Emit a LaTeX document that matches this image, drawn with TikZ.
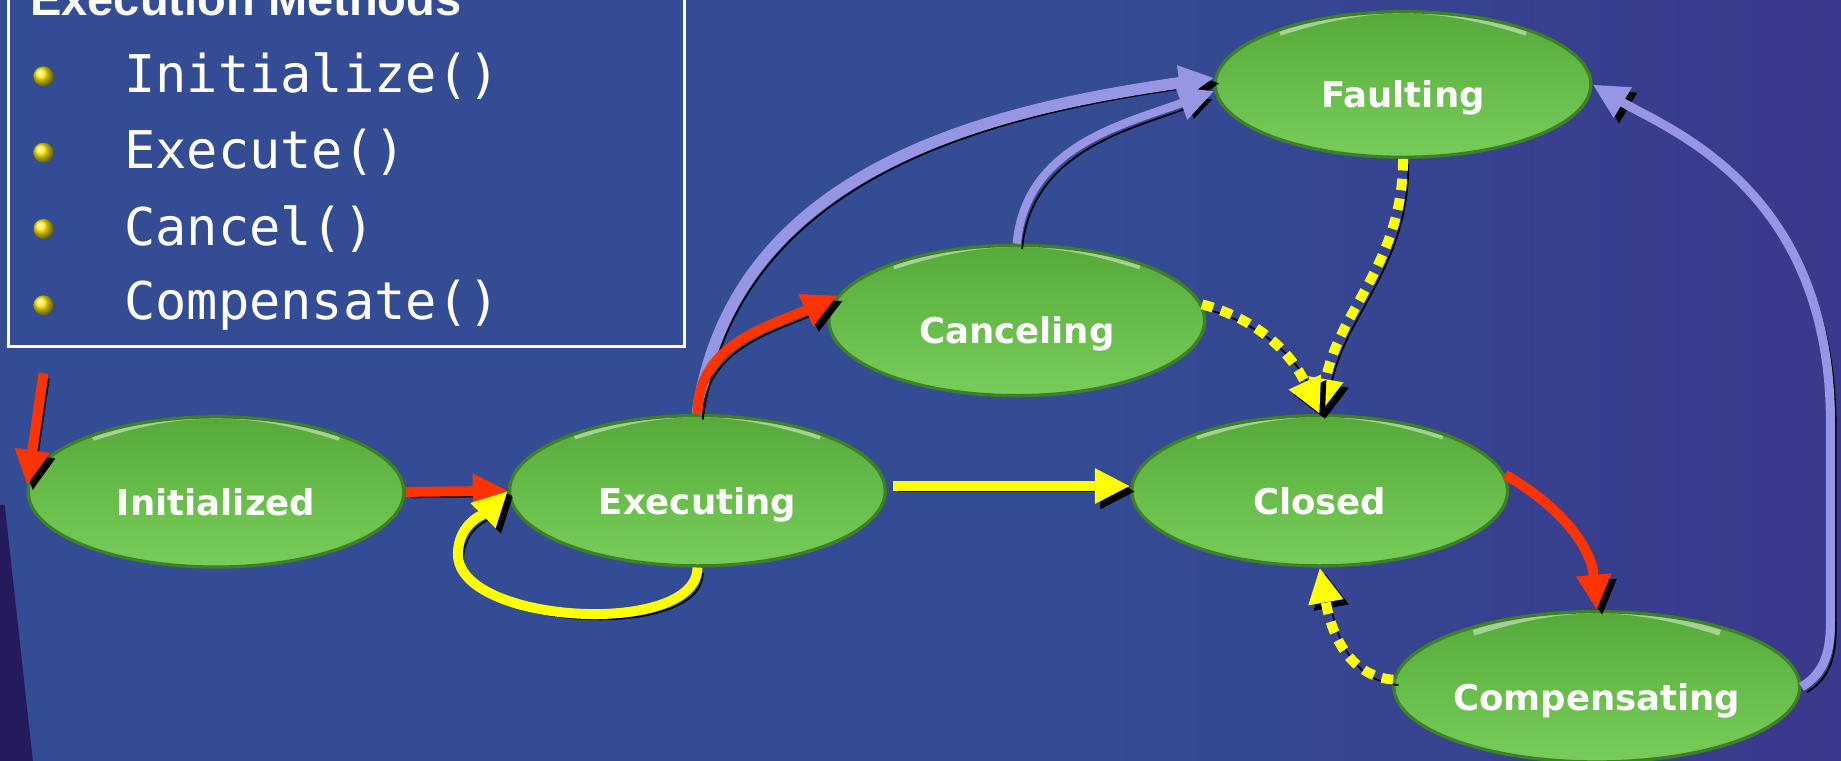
\documentclass[tikz,border=0pt]{standalone}
\usepackage{fontspec}
\setmainfont{DejaVu Sans}
\newfontfamily\monofont{DejaVu Sans Mono}
\newfontfamily\titlefont{Liberation Sans}
\usepackage{tikz}
\usetikzlibrary{calc,shapes.geometric,arrows.meta}

\definecolor{bgleft}{RGB}{36,28,92}
\definecolor{bgblue}{RGB}{52,76,148}
\definecolor{bgviolet}{RGB}{58,56,140}
\definecolor{bgright}{RGB}{62,40,118}
\definecolor{bgdark}{RGB}{34,14,78}
\definecolor{nodetop}{RGB}{86,170,58}
\definecolor{nodebot}{RGB}{120,205,90}
\definecolor{nodeedge}{RGB}{62,128,40}
\definecolor{arrred}{RGB}{255,51,0}
\definecolor{arryellow}{RGB}{255,255,0}
\definecolor{arrlav}{RGB}{150,150,228}
\pgfdeclarehorizontalshading{bgshade}{100bp}{color(0bp)=(bgleft); color(8bp)=(bgblue); color(55bp)=(bgblue); color(75bp)=(bgviolet); color(100bp)=(bgright)}

\tikzset{
	phase/.style={ellipse, minimum width=3.2cm, minimum height=1.28cm, inner sep=0pt,
		text height=0.45cm, text depth=0.05cm,
		top color=nodetop, bottom color=nodebot, draw=nodeedge, line width=0.8pt,
		text=white, font=\fontsize{8.6}{10}\selectfont\bfseries,
		path picture={\draw[white, opacity=0.45, line width=1.4pt]
			([xshift=-1.05cm,yshift=-0.18cm]path picture bounding box.north)
			to[bend left=18] ([xshift=1.05cm,yshift=-0.18cm]path picture bounding box.north);}},
	castshadow/.style={preaction={draw=black, transform canvas={shift={(1.3pt,-1.3pt)}}}},
	flow/.style={castshadow, line width=2.4pt, -{Triangle[length=0.3cm,width=0.28cm]}},
	redflow/.style={flow, arrred},
	yelflow/.style={flow, arryellow},
	dotflow/.style={yelflow, dash pattern=on 2.8pt off 2pt},
	lavflow/.style={flow, arrlav, line width=2pt}
}

\begin{document}
\begin{tikzpicture}
			%%%%% START %%%%%
			
			\clip (0,0) rectangle (15.68,-6.48);
			\shade[shading=bgshade] (0,0.5) rectangle (15.68,-6.48);
			\fill[bgdark, opacity=0.8] (0,-4.3) -- (0.04,-4.3) -- (0.28,-6.48) -- (0,-6.48) -- cycle;
			
			\draw[white, line width=0.8pt] (0.07,0.3) rectangle (5.83,-2.95);
			\node[anchor=base west, inner sep=0pt, text=white, font=\titlefont\fontsize{11.4}{13}\selectfont\bfseries] (title) at (0.25,-0.13) {Execution Methods};
			\foreach \m [count=\i] in {{Initialize()},{Execute()},{Cancel()},{Compensate()}} {
				\shade[ball color=yellow!85!orange] (0.37,-0.65*\i) circle (0.085);
				\node[anchor=west, inner sep=0pt, text=white, font=\monofont\fontsize{12.6}{14}\selectfont] (meth\i) at (1.05,-0.65*\i) {\m};
			}
			
			\node[phase] (init) at (1.84,-4.19) {Initialized};
			\node[phase] (exec) at (5.94,-4.18) {Executing};
			\node[phase] (cancel) at (8.66,-2.73) {Canceling};
			\node[phase, minimum height=1.24cm] (fault) at (11.95,-0.72) {Faulting};
			\node[phase] (closed) at (11.24,-4.18) {Closed};
			\node[phase] (comp) at (13.6,-5.85) {Compensating};
			
			\coordinate (entry) at (0.37,-3.18);
			\draw[redflow] (entry) -- (init.178);
			\draw[redflow] (init.east) -- (exec.west);
			\draw[yelflow] (exec.south) to[out=-90,in=-90,looseness=0.75] (3.9,-4.72) to[out=90,in=-135] (exec.west);
			\draw[yelflow, shorten <=0.05cm] ([yshift=0.04cm]exec.east) -- ([yshift=0.04cm]closed.west);
			
			\draw[lavflow, line width=2.8pt] (exec.north) to[out=82,in=188] (fault.178);
			\draw[lavflow] (cancel.north) to[out=85,in=200] (fault.182);
			\draw[redflow] (exec.north) to[out=90,in=205] (cancel.172);
			
			\draw[dotflow] (fault.south) to[out=-90,in=80] (closed.north);
			\draw[dotflow] (cancel.5) to[out=-15,in=115] (closed.north);
			
			\draw[redflow] (closed.5) to[out=-30,in=95] (comp.north);
			\draw[dotflow] (comp.178) to[out=175,in=-80] (closed.south);
			\draw[lavflow, line width=2.2pt] (comp.east) to[out=30,in=-90] (15.59,-5.3) -- (15.59,-3.6) .. controls (15.59,-1.6) and (14.2,-1.1) .. (fault.east);
			
			%%%%% END %%%%%
\end{tikzpicture}
\end{document}
